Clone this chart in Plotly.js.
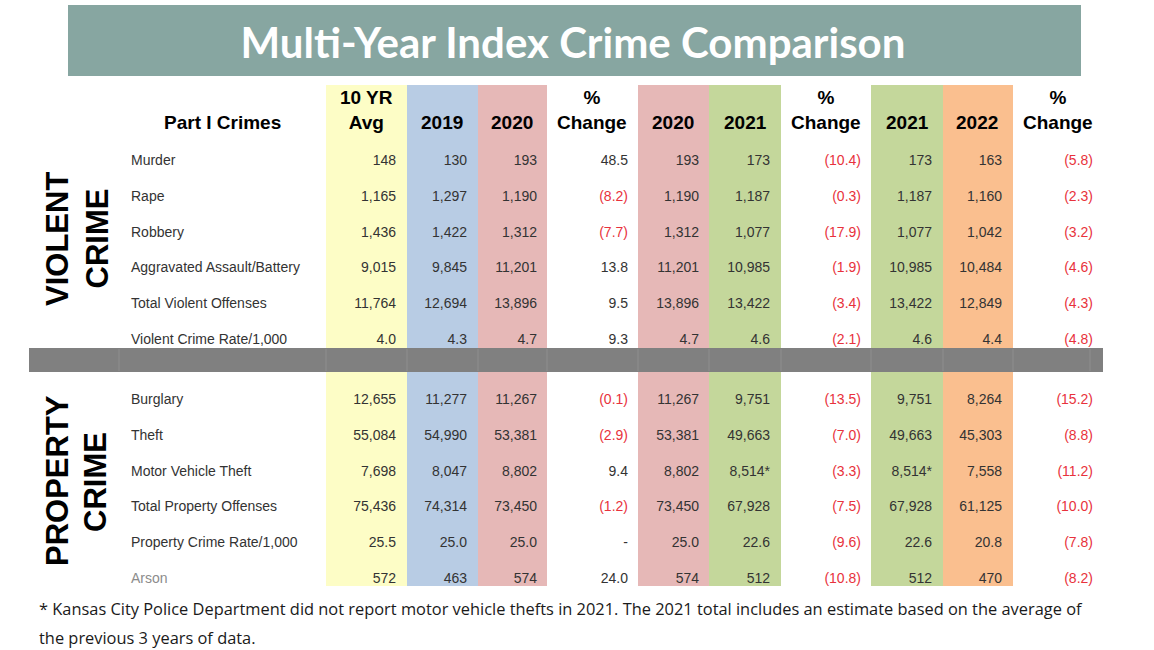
<!DOCTYPE html>
<html>
<head>
<meta charset="utf-8">
<script src="https://cdn.plot.ly/plotly-3.0.1.min.js"></script>
<style>html,body{margin:0;padding:0;background:#fff;}</style>
</head>
<body>
<div id="chart" style="width:1154px;height:650px;"></div>
<script>
// ---------------- DATA ----------------
const crimes = ["Murder", "Rape", "Robbery", "Aggravated Assault/Battery", "Total Violent Offenses",
  "Violent Crime Rate/1,000", "Burglary", "Theft", "Motor Vehicle Theft", "Total Property Offenses",
  "Property Crime Rate/1,000", "Arson"];
const isRate = [false, false, false, false, false, true, false, false, false, false, true, false];
const avg10yr = [148, 1165, 1436, 9015, 11764, 4.0, 12655, 55084, 7698, 75436, 25.5, 572];
const v2019 = [130, 1297, 1422, 9845, 12694, 4.3, 11277, 54990, 8047, 74314, 25.0, 463];
const v2020 = [193, 1190, 1312, 11201, 13896, 4.7, 11267, 53381, 8802, 73450, 25.0, 574];
const v2021 = [173, 1187, 1077, 10985, 13422, 4.6, 9751, 49663, 8514, 67928, 22.6, 512];
const v2022 = [163, 1160, 1042, 10484, 12849, 4.4, 8264, 45303, 7558, 61125, 20.8, 470];
const chg2019to2020 = [48.5, -8.2, -7.7, 13.8, 9.5, 9.3, -0.1, -2.9, 9.4, -1.2, 0, 24.0];
const chg2020to2021 = [-10.4, -0.3, -17.9, -1.9, -3.4, -2.1, -13.5, -7.0, -3.3, -7.5, -9.6, -10.8];
const chg2021to2022 = [-5.8, -2.3, -3.2, -4.6, -4.3, -4.8, -15.2, -8.8, -11.2, -10.0, -7.8, -8.2];
const mark2021 = ["", "", "", "", "", "", "", "", "*", "", "", ""];
const headers = ["10 YR<br>Avg", "2019", "2020", "%<br>Change", "2020", "2021", "%<br>Change", "2021", "2022", "%<br>Change"];
const sections = [["VIOLENT", "CRIME"], ["PROPERTY", "CRIME"]];
const titleText = "Multi-Year Index Crime Comparison";
const footLines = ["* Kansas City Police Department did not report motor vehicle thefts in 2021. The 2021 total includes an estimate based on the average of",
  "the previous 3 years of data."];

// ---------------- LAYOUT GEOMETRY (pixel scale axes) ----------------
const W = 1154, H = 650;
const rowY = i => (i < 6 ? 161.5 + i * 35.8 : 400.5 + (i - 6) * 35.8);
const ys = crimes.map((_, i) => rowY(i));
const colBands = [
  {x0: 326, x1: 407, c: "#fdfdc6"}, {x0: 407, x1: 478, c: "#b8cce4"}, {x0: 478, x1: 547, c: "#e6b8b7"},
  {x0: 638, x1: 709, c: "#e6b8b7"}, {x0: 709, x1: 781, c: "#c4d79b"},
  {x0: 871, x1: 943, c: "#c4d79b"}, {x0: 943, x1: 1013, c: "#fabf8f"}
];
const headerX = [366, 442, 512, 592, 673, 745, 826, 907, 977, 1058];
const valueRight = [396, 467, 537, 628, 699, 770, 861, 932, 1002, 1093];

const fmtNum = (v, i) => isRate[i] ? v.toFixed(1) : v.toLocaleString("en-US");
const fmtChg = v => v === 0 ? "-" : (v < 0 ? "(" + Math.abs(v).toFixed(1) + ")" : v.toFixed(1));
const dark = "#333333", red = "#e8323c";
const FONT = "Liberation Sans, Arial, sans-serif";

const columns = [
  {vals: avg10yr.map(fmtNum)},
  {vals: v2019.map(fmtNum)},
  {vals: v2020.map(fmtNum)},
  {vals: chg2019to2020.map(fmtChg), colors: chg2019to2020.map(v => v < 0 ? red : dark)},
  {vals: v2020.map(fmtNum)},
  {vals: v2021.map((v, i) => fmtNum(v, i) + mark2021[i])},
  {vals: chg2020to2021.map(fmtChg), colors: chg2020to2021.map(v => v < 0 ? red : dark)},
  {vals: v2021.map((v, i) => fmtNum(v, i) + mark2021[i])},
  {vals: v2022.map(fmtNum)},
  {vals: chg2021to2022.map(fmtChg), colors: chg2021to2022.map(v => v < 0 ? red : dark)}
];

const traces = [];
traces.push({
  type: "scatter", mode: "text", x: crimes.map(() => 131), y: ys, text: crimes,
  textposition: "middle right", hoverinfo: "skip",
  textfont: {family: FONT, size: 14, color: crimes.map(c => c === "Arson" ? "#8c8c8c" : dark)}
});
columns.forEach((col, k) => {
  traces.push({
    type: "scatter", mode: "text", x: crimes.map(() => valueRight[k]), y: ys, text: col.vals,
    textposition: "middle left", hoverinfo: "skip",
    textfont: {family: FONT, size: 14, color: col.colors || dark}
  });
});

const shapes = [];
// title banner
shapes.push({type: "rect", xref: "x", yref: "y", x0: 68, x1: 1081, y0: 5, y1: 76, fillcolor: "#87a6a1", line: {width: 0}, layer: "below"});
colBands.forEach(b => shapes.push({type: "rect", xref: "x", yref: "y", x0: b.x0, x1: b.x1, y0: 85, y1: 586, fillcolor: b.c, line: {width: 0}, layer: "below"}));
// separator band
shapes.push({type: "rect", xref: "x", yref: "y", x0: 29, x1: 1103, y0: 348, y1: 372, fillcolor: "#808080", line: {width: 0}, layer: "below"});
[119, 326, 407, 478, 547, 638, 709, 781, 871, 943, 1013, 1090].forEach(x =>
  shapes.push({type: "line", xref: "x", yref: "y", x0: x, x1: x, y0: 349, y1: 371, line: {color: "#8e8e8e", width: 1}, layer: "below"}));

const annotations = [];
annotations.push({x: 222, y: 122, xref: "x", yref: "y", text: "Part I Crimes", showarrow: false,
  font: {family: FONT, size: 19, color: "#000", weight: "bold"}, xanchor: "center", yanchor: "middle"});
headers.forEach((h, k) => {
  const two = h.indexOf("<br>") >= 0;
  annotations.push({x: headerX[k], y: two ? 110 : 122, xref: "x", yref: "y", text: h, showarrow: false,
    font: {family: FONT, size: 19, color: "#000", weight: "bold"}, xanchor: "center", yanchor: "middle"});
});
const secPos = [[[57, 239], [96.5, 239]], [[57, 481], [95, 482]]];
sections.forEach((s, si) => s.forEach((word, wi) => {
  annotations.push({x: secPos[si][wi][0], y: secPos[si][wi][1], xref: "x", yref: "y", text: word, textangle: -90,
    showarrow: false, font: {family: FONT, size: 31, color: "#000", weight: "bold"}, xanchor: "center", yanchor: "middle"});
}));
footLines.forEach((t, i) => annotations.push({x: 37, y: [608, 637][i], xref: "x", yref: "y", text: t, showarrow: false,
  font: {family: "Open Sans, sans-serif", size: 16.4, color: "#1a1a1a"}, xanchor: "left", yanchor: "middle"}));

const layout = {
  width: W, height: H,
  margin: {l: 0, r: 0, t: 0, b: 0, pad: 0},
  paper_bgcolor: "#ffffff", plot_bgcolor: "#ffffff",
  showlegend: false,
  title: {text: titleText, x: 573 / W, y: 1 - 43 / H, xref: "container", yref: "container",
    xanchor: "center", yanchor: "middle", font: {family: "Lato, sans-serif", size: 42, color: "#ffffff", weight: "bold"}},
  xaxis: {range: [0, W], visible: false, fixedrange: true},
  yaxis: {range: [H, 0], visible: false, fixedrange: true},
  shapes: shapes,
  annotations: annotations
};
Plotly.newPlot("chart", traces, layout, {displayModeBar: false, staticPlot: true});
</script>
</body>
</html>
